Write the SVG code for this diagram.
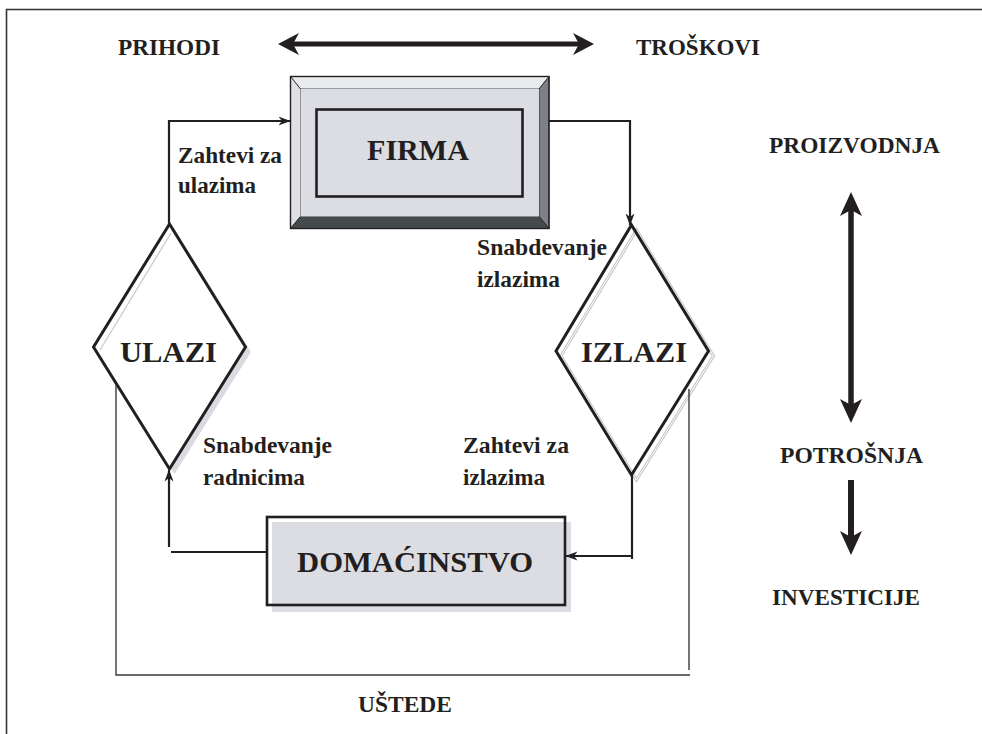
<svg xmlns="http://www.w3.org/2000/svg" width="982" height="734" viewBox="0 0 982 734">
<style>
  text { font-family: "Liberation Serif", "Times New Roman", serif; font-weight: bold; fill: #231f20; }
  .lbl { font-size: 23px; }
  .node { font-size: 30px; }
  .conn { fill: none; stroke: #231f20; stroke-width: 2.2; }
  .thin { fill: none; stroke: #3a3a3a; stroke-width: 1.4; }
  .big { fill: #231f20; }
</style>
<defs>
  <marker id="arr" markerUnits="userSpaceOnUse" viewBox="0 0 12 10" refX="11.5" refY="5" markerWidth="12" markerHeight="10" orient="auto">
    <path d="M0,0.5 L12,5 L0,9.5 L3.5,5 Z" fill="#231f20"/>
  </marker>
</defs>

<!-- frame -->
<g id="frame">
  <path d="M6.5,734 L6.5,9.5 L982,9.5" fill="none" stroke="#333" stroke-width="1.6"/>
</g>

<!-- top labels and arrow -->
<g id="prihodi"><text class="lbl" x="118" y="55" textLength="102" lengthAdjust="spacingAndGlyphs">PRIHODI</text></g>
<g id="troskovi"><text class="lbl" x="636" y="55" textLength="124" lengthAdjust="spacingAndGlyphs">TROŠKOVI</text></g>

<!-- right labels -->
<g id="proizvodnja"><text class="lbl" x="769" y="153" textLength="171" lengthAdjust="spacingAndGlyphs">PROIZVODNJA</text></g>
<g id="potrosnja"><text class="lbl" x="780" y="463" textLength="143" lengthAdjust="spacingAndGlyphs">POTROŠNJA</text></g>
<g id="investicije"><text class="lbl" x="772" y="605" textLength="148" lengthAdjust="spacingAndGlyphs">INVESTICIJE</text></g>
<g id="ustede"><text class="lbl" x="358" y="712" textLength="94" lengthAdjust="spacingAndGlyphs">UŠTEDE</text></g>

<!-- FIRMA -->
<g id="firma">
  <polygon points="290.5,76.5 549,76.5 539,89 300.5,89" fill="#eaebef" stroke="#231f20" stroke-width="0.8"/>
  <polygon points="290.5,76.5 300.5,89 300.5,216.5 290.5,228.5" fill="#dfe0e5" stroke="#231f20" stroke-width="0.8"/>
  <polygon points="549,76.5 549,228.5 539,216.5 539,89" fill="#7c8187" stroke="#231f20" stroke-width="0.8"/>
  <polygon points="290.5,228.5 549,228.5 539,216.5 300.5,216.5" fill="#454b4d" stroke="#231f20" stroke-width="0.8"/>
  <rect x="300.5" y="89" width="238.5" height="127.5" fill="#dcdde2"/>
  <rect x="290.5" y="76.5" width="258.5" height="152" fill="none" stroke="#231f20" stroke-width="1.4"/>
  <rect x="316.5" y="109.5" width="206" height="87" fill="none" stroke="#231f20" stroke-width="2.6"/>
  <text class="node" x="367" y="160" textLength="102" lengthAdjust="spacingAndGlyphs">FIRMA</text>
</g>

<!-- ULAZI -->
<g id="ulazi">
  <polygon points="174.5,229 251,352 174.5,474 98.5,352" fill="#d9dbe0"/>
  <polygon points="169.5,224 245.5,347 169.5,469 93.5,347" fill="#ffffff" stroke="#231f20" stroke-width="3"/>
  <line x1="171" y1="233" x2="100" y2="350" stroke="#c9cbd1" stroke-width="1.3"/>
  <text class="node" x="120" y="362" textLength="97" lengthAdjust="spacingAndGlyphs">ULAZI</text>
</g>

<!-- IZLAZI -->
<g id="izlazi">
  <polygon points="636.5,230 713.5,356 636.5,480 561,356" fill="none" stroke="#c4c6cc" stroke-width="3"/>
  <polygon points="636.5,230 713.5,356 636.5,480 561,356" fill="none" stroke="#ffffff" stroke-width="1"/>
  <polygon points="631.5,225 708.5,351 631.5,475 556,351" fill="none" stroke="#231f20" stroke-width="3"/>
  <text class="node" x="581" y="362" textLength="106" lengthAdjust="spacingAndGlyphs">IZLAZI</text>
</g>

<!-- DOMACINSTVO -->
<g id="domacinstvo">
  <rect x="272" y="522" width="299" height="90" fill="#dcdde2"/>
  <rect x="267" y="517" width="298" height="88" fill="none" stroke="#231f20" stroke-width="2.6"/>
  <text class="node" x="297" y="572" textLength="236" lengthAdjust="spacingAndGlyphs">DOMAĆINSTVO</text>
</g>

<!-- connector labels -->
<g id="labels">
  <text class="lbl" x="178" y="163" textLength="104" lengthAdjust="spacingAndGlyphs">Zahtevi za</text>
  <text class="lbl" x="178" y="193" textLength="78" lengthAdjust="spacingAndGlyphs">ulazima</text>
  <text class="lbl" x="477" y="255" textLength="130" lengthAdjust="spacingAndGlyphs">Snabdevanje</text>
  <text class="lbl" x="477" y="287" textLength="83" lengthAdjust="spacingAndGlyphs">izlazima</text>
  <text class="lbl" x="203" y="453" textLength="129" lengthAdjust="spacingAndGlyphs">Snabdevanje</text>
  <text class="lbl" x="203" y="485" textLength="102" lengthAdjust="spacingAndGlyphs">radnicima</text>
  <text class="lbl" x="463" y="453" textLength="106" lengthAdjust="spacingAndGlyphs">Zahtevi za</text>
  <text class="lbl" x="463" y="485" textLength="82" lengthAdjust="spacingAndGlyphs">izlazima</text>
</g>

<!-- connectors -->
<g id="connectors">
  <!-- top double arrow -->
  <line x1="292" y1="44" x2="580" y2="44" stroke="#231f20" stroke-width="5"/>
  <path class="big" d="M278,44 L299,33 L293,44 L299,55 Z"/>
  <path class="big" d="M594,44 L573,33 L579,44 L573,55 Z"/>
  <!-- vertical double arrow -->
  <line x1="851" y1="206" x2="851" y2="409" stroke="#231f20" stroke-width="5.5"/>
  <path class="big" d="M851,192 L862,216 L851,210 L840,216 Z"/>
  <path class="big" d="M851,423 L862,399 L851,405 L840,399 Z"/>
  <!-- down arrow -->
  <line x1="851" y1="480" x2="851" y2="540" stroke="#231f20" stroke-width="6"/>
  <path class="big" d="M851,555 L862,531 L851,537 L840,531 Z"/>
  <!-- ULAZI to FIRMA -->
  <polyline class="conn" points="169,224 169,121 290,121" marker-end="url(#arr)"/>
  <!-- FIRMA to IZLAZI -->
  <polyline class="conn" points="549,121 630,121 630,225" marker-end="url(#arr)"/>
  <!-- IZLAZI to DOMACINSTVO -->
  <line class="conn" x1="632" y1="475" x2="632" y2="559"/>
  <line class="conn" x1="633" y1="556" x2="566" y2="556" marker-end="url(#arr)"/>
  <!-- DOMACINSTVO to ULAZI -->
  <line class="conn" x1="267" y1="552" x2="171" y2="552"/>
  <line class="conn" x1="169" y1="547" x2="169" y2="470" marker-end="url(#arr)"/>
  <!-- savings loop -->
  <polyline class="thin" points="116,384 116,675 690,675"/>
  <line class="thin" x1="689" y1="389" x2="689" y2="670"/>
</g>
</svg>
